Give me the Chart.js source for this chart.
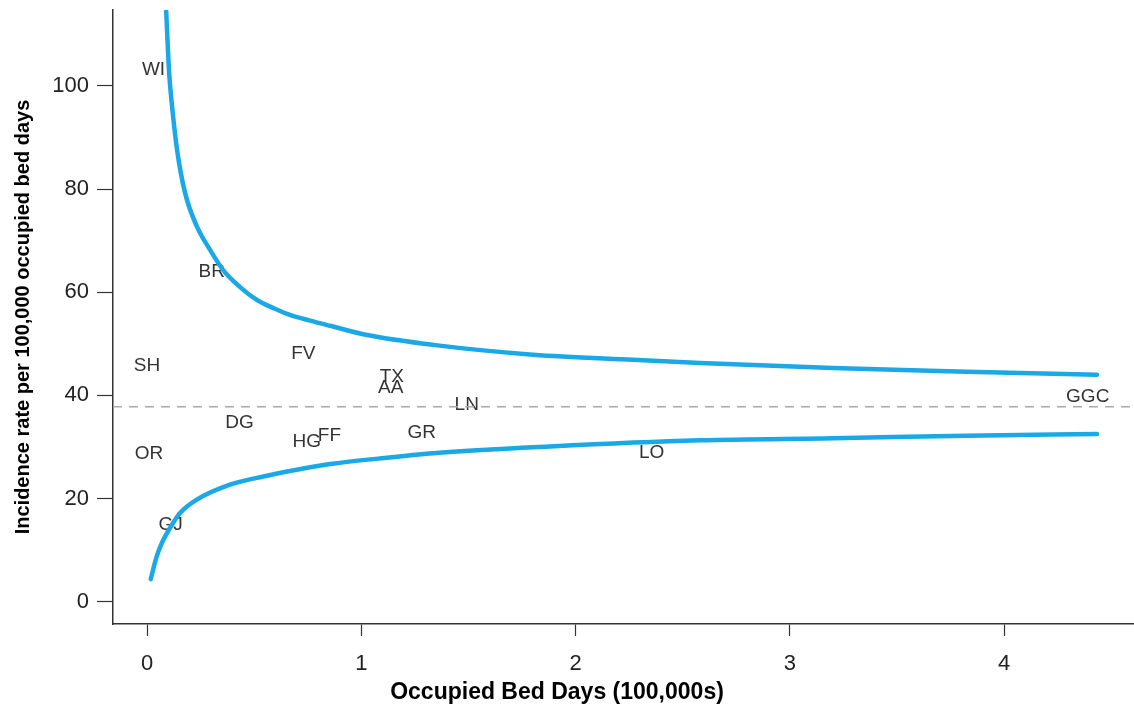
<!DOCTYPE html>
<html lang="en">
<head>
  <meta charset="UTF-8" />
  <title>Funnel plot - Incidence rate per 100,000 occupied bed days</title>
  <script src="https://cdn.jsdelivr.net/npm/chart.js"></script>
  <style>
    html, body {
      margin: 0;
      padding: 0;
      background: #fff;
    }

    #funnel-container {
      width: 1134px;
      height: 713px;
    }
  </style>
</head>
<body>

  <div id="funnel-container">
    <canvas id="funnelPlot"></canvas>
  </div>

  <script>
    // boards, their occupied bed days (100,000s) and incidence rate
    const boards = ['WI', 'BR', 'SH', 'FV', 'TX', 'AA', 'LN', 'GGC', 'DG', 'HG', 'FF', 'GR', 'OR', 'LO', 'GJ'];
    const bedDays = [0.03, 0.302, 0.0, 0.729, 1.142, 1.137, 1.492, 4.39, 0.431, 0.745, 0.851, 1.282, 0.009, 2.355, 0.11];
    const rates = [103.1, 64.0, 45.8, 48.1, 43.7, 41.4, 38.2, 39.7, 34.7, 31.1, 32.2, 32.7, 28.7, 28.8, 14.9];

    // overall rate (dashed line)
    const overallRate = 37.8;

    // control limits
    const upperX = [0.089, 0.103, 0.117, 0.140, 0.177, 0.233, 0.294, 0.355, 0.434, 0.513, 0.597, 0.667, 0.761, 0.854, 1.027, 1.335, 1.801, 2.268, 2.581, 3.201, 3.826, 4.433];
    const upperY = [114.6, 102.5, 95.9, 87.6, 79.3, 72.7, 68.2, 64.3, 61.0, 58.5, 56.8, 55.6, 54.5, 53.5, 51.7, 49.8, 47.9, 46.9, 46.3, 45.3, 44.6, 44.0];
    const lowerX = [0.017, 0.045, 0.069, 0.107, 0.154, 0.232, 0.387, 0.543, 0.699, 0.854, 1.087, 1.336, 1.880, 2.580, 3.201, 3.826, 4.433];
    const lowerY = [4.4, 8.8, 11.4, 14.3, 17.2, 19.8, 22.7, 24.3, 25.6, 26.7, 27.8, 28.8, 30.1, 31.3, 31.7, 32.2, 32.5];

    const xTicks = [0, 1, 2, 3, 4];
    const yTicks = [0, 20, 40, 60, 80, 100];

    const xMin = -0.159, xMax = 4.606;
    const yMin = -4.3, yMax = 114.7;

    const blue = '#1ba8e6';
    const axisColor = '#333';

    function toPoints(xs, ys) {
      return xs.map((x, i) => ({ x: x, y: ys[i] }));
    }

    // board codes drawn as text at their position, under the curves
    const boardLabels = {
      id: 'boardLabels',
      beforeDatasetsDraw(chart) {
        const { ctx, scales } = chart;
        ctx.save();
        ctx.font = '19px "Liberation Sans", Arial, sans-serif';
        ctx.fillStyle = '#333';
        ctx.textAlign = 'center';
        ctx.textBaseline = 'middle';
        boards.forEach((b, i) => {
          ctx.fillText(b, scales.x.getPixelForValue(bedDays[i]), scales.y.getPixelForValue(rates[i]));
        });
        ctx.restore();
      }
    };

    // x title sits left of the axis centre in the original
    const xTitle = {
      id: 'xTitle',
      afterDraw(chart) {
        const { ctx, chartArea } = chart;
        ctx.save();
        ctx.font = 'bold 23px "Liberation Sans", Arial, sans-serif';
        ctx.fillStyle = '#000';
        ctx.textAlign = 'center';
        ctx.textBaseline = 'middle';
        ctx.fillText('Occupied Bed Days (100,000s)', chartArea.left + 444, 693);
        ctx.restore();
      }
    };

    const ctx = document.getElementById('funnelPlot').getContext('2d');

    new Chart(ctx, {
      type: 'line',
      data: {
        datasets: [
          {
            label: 'Upper limit',
            data: toPoints(upperX, upperY),
            borderColor: blue,
            borderWidth: 4.5,
            borderCapStyle: 'round',
            pointRadius: 0,
            cubicInterpolationMode: 'monotone',
            fill: false
          },
          {
            label: 'Lower limit',
            data: toPoints(lowerX, lowerY),
            borderColor: blue,
            borderWidth: 4.5,
            borderCapStyle: 'round',
            pointRadius: 0,
            cubicInterpolationMode: 'monotone',
            fill: false
          },
          {
            label: 'Overall rate',
            data: [{ x: xMin, y: overallRate }, { x: xMax, y: overallRate }],
            borderColor: '#aaaaaa',
            borderWidth: 1.5,
            borderDash: [9, 7],
            pointRadius: 0,
            fill: false
          }
        ]
      },
      options: {
        responsive: true,
        maintainAspectRatio: false,
        animation: false,
        layout: {
          padding: { top: 10, right: 0, bottom: 0, left: 0 }
        },
        plugins: {
          legend: { display: false },
          tooltip: { enabled: false }
        },
        scales: {
          x: {
            type: 'linear',
            min: xMin,
            max: xMax,
            afterBuildTicks: s => { s.ticks = xTicks.map(v => ({ value: v })); },
            afterFit: s => { s.height = 89; },
            grid: {
              drawOnChartArea: false,
              tickLength: 12,
              color: axisColor,
              tickWidth: 1.2
            },
            border: { color: axisColor, width: 1.5 },
            ticks: {
              color: '#222',
              padding: 15,
              font: { family: '"Liberation Sans", Arial, sans-serif', size: 22 }
            }
          },
          y: {
            type: 'linear',
            min: yMin,
            max: yMax,
            afterBuildTicks: s => { s.ticks = yTicks.map(v => ({ value: v })); },
            afterFit: s => {
              s.width = 113;
              s.paddingTop = 0;
              s.paddingBottom = 0;
            },
            grid: {
              drawOnChartArea: false,
              tickLength: 16,
              color: axisColor,
              tickWidth: 1.2
            },
            border: { color: axisColor, width: 1.5 },
            ticks: {
              color: '#222',
              padding: 8,
              font: { family: '"Liberation Sans", Arial, sans-serif', size: 22 }
            },
            title: {
              display: true,
              text: 'Incidence rate per 100,000 occupied bed days',
              color: '#000',
              padding: { top: 11 },
              font: { family: '"Liberation Sans", Arial, sans-serif', size: 20, weight: 'bold' }
            }
          }
        }
      },
      plugins: [boardLabels, xTitle]
    });
  </script>

</body>
</html>
